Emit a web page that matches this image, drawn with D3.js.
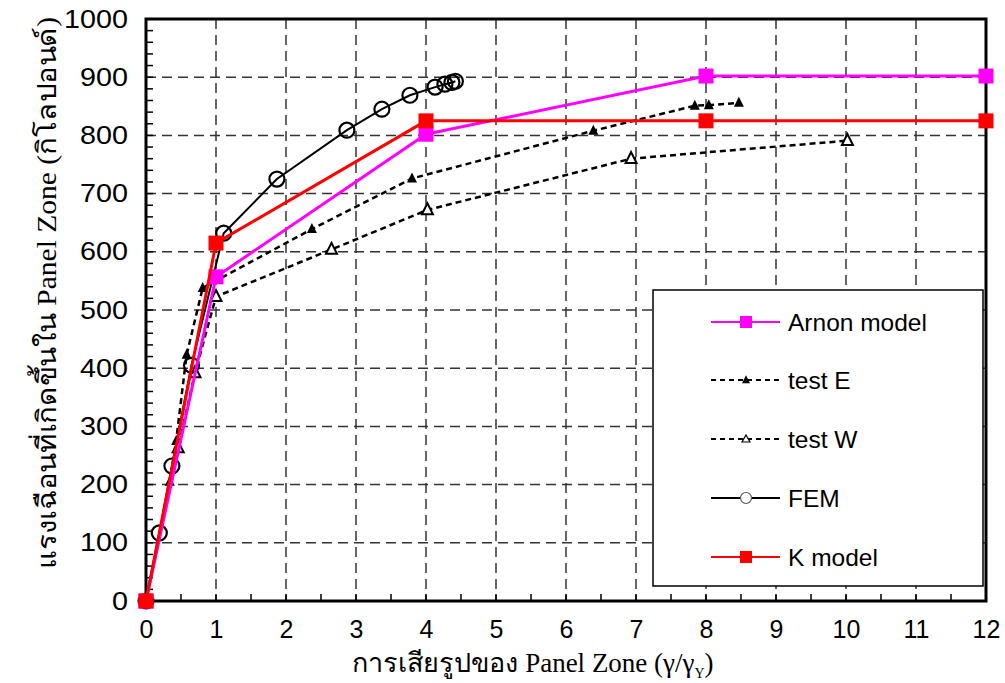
<!DOCTYPE html>
<html>
<head>
<meta charset="utf-8">
<script src="https://cdn.jsdelivr.net/npm/d3@7"></script>
<style>
  html, body { margin: 0; padding: 0; background: #fff; }
  svg { display: block; }
</style>
</head>
<body>
<svg id="chart" width="1005" height="683"></svg>
<script>
// Shear deformation ratio (γ/γy) vs. panel zone shear force (kips)
const xTickValues = [0, 1, 2, 3, 4, 5, 6, 7, 8, 9, 10, 11, 12];
const yTickValues = [0, 100, 200, 300, 400, 500, 600, 700, 800, 900, 1000];

const arnonX = [0, 1, 4, 8, 12];
const arnonY = [0, 557, 802, 902, 902];

const testEX = [0, 0.34, 0.43, 0.58, 0.81, 2.37, 3.8, 6.39, 7.84, 8.04, 8.47];
const testEY = [0, 205, 275, 423, 538, 639, 726, 808, 851, 852, 856];

const testWX = [0, 0.46, 0.7, 1.0, 2.65, 4.02, 6.93, 10.02];
const testWY = [0, 263, 392, 523, 604, 672, 760, 791];

const femX = [0, 0.19, 0.37, 0.65, 1.11, 1.87, 2.87, 3.37, 3.77, 4.13, 4.27, 4.37, 4.42];
const femY = [0, 117, 232, 405, 632, 725, 809, 845, 869, 883, 888, 891, 893];

const kX = [0, 1, 4, 8, 12];
const kY = [0, 615, 825, 825, 825];

const seriesNames = ["Arnon model", "test E", "test W", "FEM", "K model"];

const zip = (xs, ys) => xs.map((v, i) => [v, ys[i]]);

const series = {
  arnon: { name: seriesNames[0], pts: zip(arnonX, arnonY), color: "#ff00ff", width: 3, dash: null, marker: "square" },
  testE: { name: seriesNames[1], pts: zip(testEX, testEY), color: "#000", width: 2.5, dash: "6,4", marker: "triFilled" },
  testW: { name: seriesNames[2], pts: zip(testWX, testWY), color: "#000", width: 2.5, dash: "6,4", marker: "triOpen" },
  fem:   { name: seriesNames[3], pts: zip(femX, femY), color: "#000", width: 2, dash: null, marker: "circle" },
  k:     { name: seriesNames[4], pts: zip(kX, kY), color: "#ff0000", width: 3, dash: null, marker: "square" }
};

const svg = d3.select("#chart");
const plotL = 146, plotR = 986, plotT = 19, plotB = 601;

const x = d3.scaleLinear().domain([0, 12]).range([plotL, plotR]);
const y = d3.scaleLinear().domain([0, 1000]).range([plotB, plotT]);

// grid
const grid = svg.append("g");
grid.selectAll("line.gx").data(xTickValues.slice(1, -1)).join("line")
  .attr("x1", d => x(d)).attr("x2", d => x(d))
  .attr("y1", plotT).attr("y2", plotB)
  .attr("stroke", "#333").attr("stroke-width", 1.5).attr("stroke-dasharray", "10,6");
grid.selectAll("line.gy").data(yTickValues.slice(1, -1)).join("line")
  .attr("x1", plotL).attr("x2", plotR)
  .attr("y1", d => y(d)).attr("y2", d => y(d))
  .attr("stroke", "#333").attr("stroke-width", 1.5).attr("stroke-dasharray", "10,6");

// axes with inward ticks
const fontTicks = "'Liberation Sans', Arial, sans-serif";
const xAxis = d3.axisBottom(x).tickValues(xTickValues).tickSize(0).tickPadding(19).tickFormat(d3.format("d"));
const gx = svg.append("g").attr("transform", `translate(0,${plotB})`).call(xAxis);
gx.select(".domain").remove();
gx.selectAll("text").attr("font-family", fontTicks).attr("font-size", 25).attr("fill", "#000")
  .attr("dy", "0.71em");

const yAxis = d3.axisLeft(y).tickValues(yTickValues).tickSize(0).tickPadding(18).tickFormat(d3.format("d"));
const gy = svg.append("g").attr("transform", `translate(${plotL},0)`).call(yAxis);
gy.select(".domain").remove();
// slightly widened numerals on the value axis
gy.selectAll("text").attr("font-family", fontTicks).attr("font-size", 25).attr("fill", "#000")
  .attr("x", 0).attr("transform", "translate(-18,0) scale(1.15,1)");

// minor ticks
const xMinor = d3.range(0.5, 12, 0.5);
svg.append("g").selectAll("line").data(xMinor).join("line")
  .attr("x1", d => x(d)).attr("x2", d => x(d))
  .attr("y1", plotB).attr("y2", plotB - 7)
  .attr("stroke", "#000").attr("stroke-width", 1.5);
const yMinor = d3.range(20, 1000, 20);
svg.append("g").selectAll("line").data(yMinor).join("line")
  .attr("x1", plotL).attr("x2", plotL + 7)
  .attr("y1", d => y(d)).attr("y2", d => y(d))
  .attr("stroke", "#000").attr("stroke-width", 1.5);

// frame
svg.append("rect").attr("x", plotL).attr("y", plotT)
  .attr("width", plotR - plotL).attr("height", plotB - plotT)
  .attr("fill", "none").attr("stroke", "#000").attr("stroke-width", 3);

// markers
function drawMarker(g, type, cx, cy, size, color) {
  if (type === "square") {
    g.append("rect").attr("x", cx - size / 2).attr("y", cy - size / 2)
      .attr("width", size).attr("height", size).attr("fill", color);
  } else if (type === "circle") {
    g.append("circle").attr("cx", cx).attr("cy", cy).attr("r", size / 2)
      .attr("fill", "none").attr("stroke", "#000").attr("stroke-width", 2.2);
  } else if (type === "triFilled") {
    const s = size;
    g.append("path").attr("d", `M${cx},${cy - s * 0.6}L${cx + s / 2},${cy + s * 0.4}L${cx - s / 2},${cy + s * 0.4}Z`)
      .attr("fill", "#000");
  } else if (type === "triOpen") {
    const s = size;
    g.append("path").attr("d", `M${cx},${cy - s * 0.6}L${cx + s / 2},${cy + s * 0.4}L${cx - s / 2},${cy + s * 0.4}Z`)
      .attr("fill", "#fff").attr("stroke", "#000").attr("stroke-width", 2);
  }
}

const markerSize = { square: 15, circle: 15, triFilled: 10, triOpen: 11 };
const line = d3.line().x(d => x(d[0])).y(d => y(d[1]));

const order = ["testE", "testW", "fem", "arnon", "k"];
order.forEach(key => {
  const s = series[key];
  const g = svg.append("g");
  g.append("path").datum(s.pts).attr("d", line)
    .attr("fill", "none").attr("stroke", s.color).attr("stroke-width", s.width)
    .attr("stroke-dasharray", s.dash);
  s.pts.forEach(p => drawMarker(g, s.marker, x(p[0]), y(p[1]), markerSize[s.marker], s.color));
});

// legend
const legend = svg.append("g");
legend.append("rect").attr("x", 653).attr("y", 290).attr("width", 330).attr("height", 296)
  .attr("fill", "#fff").attr("stroke", "#000").attr("stroke-width", 1.5);
const legendKeys = ["arnon", "testE", "testW", "fem", "k"];
const legendY = [322, 380, 439, 498, 557];
legendKeys.forEach((key, i) => {
  const s = series[key];
  const ly = legendY[i];
  const g = legend.append("g");
  g.append("line").attr("x1", 711).attr("x2", 780).attr("y1", ly).attr("y2", ly)
    .attr("stroke", s.color).attr("stroke-width", s.dash ? 2 : 2.2)
    .attr("stroke-dasharray", s.dash ? "5,4" : null);
  const ms = { square: 12, circle: 11, triFilled: 8, triOpen: 7 }[s.marker];
  if (s.marker === "circle") {
    g.append("circle").attr("cx", 746).attr("cy", ly).attr("r", ms / 2)
      .attr("fill", "#fff").attr("stroke", "#555").attr("stroke-width", 1.2);
  } else if (s.marker === "triOpen") {
    g.append("path").attr("d", `M746,${ly - 4}L750,${ly + 3}L742,${ly + 3}Z`)
      .attr("fill", "#fff").attr("stroke", "#000").attr("stroke-width", 1.2);
  } else {
    drawMarker(g, s.marker, 746, ly, ms, s.color);
  }
  g.append("text").attr("x", 788).attr("y", ly).attr("dy", "0.35em")
    .attr("font-family", fontTicks).attr("font-size", 24.5).attr("fill", "#000")
    .text(s.name);
});

// axis titles
const fontThai = "'Liberation Serif', 'Times New Roman', serif";
const xt = svg.append("text").attr("x", 533).attr("y", 672).attr("text-anchor", "middle")
  .attr("font-family", fontThai).attr("font-size", 27).attr("fill", "#000");
xt.append("tspan").text("การเสียรูปของ Panel Zone (γ/γ");
xt.append("tspan").attr("font-size", 14).attr("dy", 6).text("Y");
xt.append("tspan").attr("dy", -6).text(")");

svg.append("text").attr("transform", "translate(56,293) rotate(-90)")
  .attr("text-anchor", "middle")
  .attr("font-family", fontThai).attr("font-size", 27).attr("fill", "#000")
  .attr("textLength", 552).attr("lengthAdjust", "spacingAndGlyphs")
  .text("แรงเฉือนที่เกิดขึ้นใน Panel Zone (กิโลปอนด์)");
</script>
</body>
</html>
